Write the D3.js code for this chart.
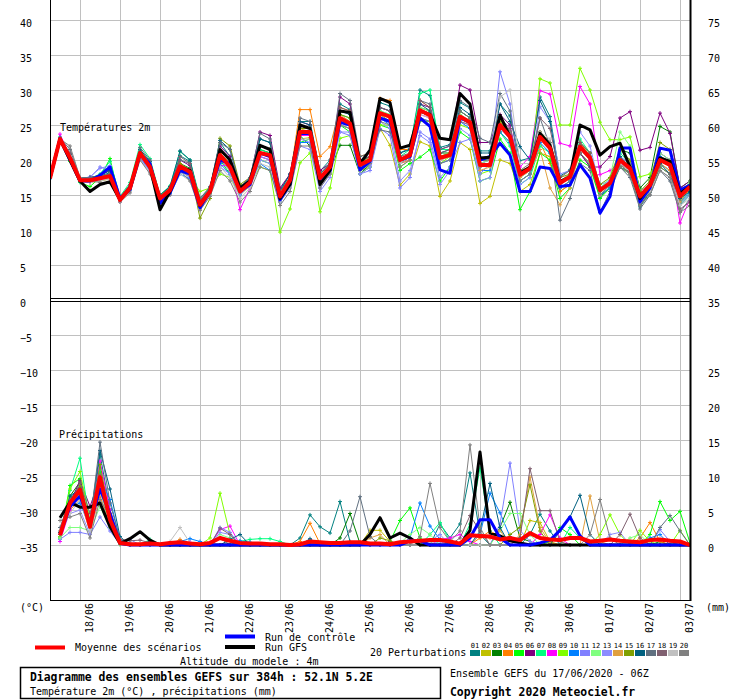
<!DOCTYPE html>
<html lang="fr">
<head>
<meta charset="UTF-8">
<title>Diagramme des ensembles GEFS</title>
<style>
body { margin: 0; background: #fff; }
svg text { font-family: "DejaVu Sans Mono", monospace; font-size: 10px; fill: #000; }
</style>
</head>
<body>
<script src="https://d3js.org/d3.v7.min.js"></script>
<script>
// jours (ticks a 00Z), echeances en heures depuis le 17/06 06Z
var dates = ["18/06","19/06","20/06","21/06","22/06","23/06","24/06","25/06","26/06","27/06","28/06","29/06","30/06","01/07","02/07","03/07"];
var dayHours = [18,42,66,90,114,138,162,186,210,234,258,282,306,330,354,378];
var stepHours = 6;
var leftLabels = [40,35,30,25,20,15,10,5,0,-5,-10,-15,-20,-25,-30,-35];
var gridTemps = [40,35,30,25,20,15,10,5,-5,-10,-15,-20,-25,-30,-35];
var rightTemps = [40,35,30,25,20,15,10,5,0];
var precipLabels = [0,5,10,15,20,25,30];

var memberNames = ["01","02","03","04","05","06","07","08","09","10","11","12","13","14","15","16","17","18","19","20"];
var memberColors = ["#008080","#c0c000","#008000","#ff8000","#00ff00","#800080","#00ff80","#ff00ff","#80ff00","#0080ff","#8080ff","#80ff80","#8c8cff","#e0a040","#80a000","#006080","#607080","#806070","#c0c0c0","#808080"];

// temperature 2m (degC), 65 echeances
var tempMean = [17.4,23.0,20.3,17.1,17.1,17.4,17.7,14.3,16.0,21.0,19.0,14.5,15.7,19.1,18.3,13.6,15.5,20.7,19.0,15.5,16.8,21.0,20.7,14.8,17.1,24.0,24.0,17.4,19.0,26.0,25.2,19.3,20.0,26.7,26.2,20.0,20.7,27.1,26.4,20.3,20.7,26.2,25.4,19.3,19.3,25.0,23.3,17.9,18.8,23.3,21.7,16.7,17.6,21.9,20.3,15.7,16.7,20.0,18.8,14.8,16.4,20.0,19.3,14.8,16.2];
var tempCtrl = [17.4,23.0,20.0,17.0,17.0,17.8,19.0,14.5,15.8,20.8,19.5,13.8,15.3,18.5,18.0,13.2,15.5,20.0,19.5,15.5,16.5,21.0,20.5,14.3,16.5,23.8,23.8,17.0,18.5,25.4,25.0,18.6,19.8,26.0,25.5,20.0,20.5,26.0,24.8,18.6,18.1,26.0,25.4,20.0,20.5,22.4,20.7,15.5,15.5,19.0,18.8,16.2,16.4,19.3,17.4,12.4,14.8,21.7,21.7,14.0,16.0,21.7,21.4,15.7,16.4];
var tempGfs = [17.4,23.0,20.0,17.0,15.5,16.5,16.9,14.3,16.0,21.0,19.0,12.9,15.5,19.0,18.5,13.5,15.5,21.5,20.0,16.0,17.0,22.1,21.5,14.5,16.5,25.0,24.5,16.5,18.5,27.0,26.8,19.5,21.4,28.8,28.2,21.7,22.1,27.0,26.5,23.1,22.9,29.5,28.0,20.3,20.4,26.4,23.3,18.1,19.0,23.8,22.1,16.9,17.6,25.0,24.3,20.7,21.9,22.4,19.0,14.5,16.5,20.3,19.8,15.2,16.2];
var tempMembers = [
[17.4,23.0,20.8,17.1,17.4,17.7,18.2,14.5,16.0,21.5,19.5,14.7,16.0,20.6,19.8,14.1,16.0,22.5,20.5,16.0,17.3,23.0,22.5,15.8,17.9,25.5,25.5,18.4,20.0,28.0,27.2,19.8,20.5,28.2,27.7,21.0,21.7,30.0,29.2,21.8,22.2,28.2,27.4,21.3,21.3,28.0,26.3,19.9,20.3,29.0,26.2,17.7,18.6,20.9,19.3,14.7,16.2,19.0,18.3,13.3,15.4,20.5,19.8,13.8,15.2],
[17.4,22.8,20.0,17.0,16.8,17.0,17.3,14.0,15.8,20.5,18.6,14.2,15.3,18.6,17.8,13.0,15.0,20.0,18.5,15.0,16.3,20.5,20.0,14.3,16.5,23.0,23.2,16.5,18.2,25.0,24.5,18.5,19.0,24.5,22.1,16.4,18.0,22.6,22.0,14.8,17.0,22.5,21.5,13.8,14.8,20.0,19.5,15.5,16.5,21.0,20.5,15.5,16.5,21.0,19.5,15.0,16.0,19.5,18.5,14.5,16.0,19.5,18.5,14.2,15.8],
[17.4,23.1,20.5,17.2,17.0,17.5,18.0,14.5,16.2,21.2,19.3,14.8,16.0,19.5,18.8,14.0,15.8,21.0,19.5,15.8,17.0,21.5,21.0,15.0,17.3,23.5,22.0,16.5,18.5,22.1,22.1,18.0,19.5,26.0,25.5,19.5,20.5,27.5,27.0,21.0,21.0,27.0,26.0,20.0,20.0,26.0,24.0,18.0,19.0,24.0,22.0,16.5,17.5,22.0,20.5,16.0,17.0,21.5,21.0,16.0,17.5,24.8,24.0,16.0,17.0],
[17.4,23.0,20.2,17.1,17.2,17.6,18.0,14.4,16.0,21.0,19.2,14.6,15.8,19.5,18.5,13.8,15.6,21.0,19.5,15.7,17.0,22.0,21.5,15.5,17.5,27.2,27.2,20.5,21.9,27.5,27.0,20.5,21.0,28.8,28.5,21.5,21.5,28.5,27.5,20.5,21.0,26.5,25.5,19.0,19.5,25.5,23.5,18.0,18.5,22.5,19.5,15.5,16.5,22.5,20.5,15.5,16.5,20.5,18.5,14.5,15.8,20.0,19.0,14.5,16.0],
[17.4,22.8,19.8,16.8,16.2,17.5,20.2,14.2,16.5,21.5,19.5,14.5,15.8,19.0,18.0,13.5,15.2,20.0,18.0,15.0,16.5,20.0,19.5,14.0,16.8,22.5,23.0,17.0,18.0,25.0,24.0,18.0,19.0,25.0,24.5,18.5,19.5,20.4,21.5,17.0,19.0,24.0,23.0,17.0,17.5,23.0,21.0,12.9,15.5,21.0,20.0,14.5,16.0,20.0,19.0,14.5,16.0,19.0,18.0,13.5,15.5,19.0,18.0,13.5,15.0],
[17.4,23.2,20.8,17.3,17.5,17.8,18.5,14.6,16.3,21.3,19.5,14.8,16.2,20.0,19.2,14.5,16.0,22.0,20.5,16.0,17.3,24.0,23.5,16.0,18.0,25.5,25.0,18.5,19.5,29.0,28.0,20.0,20.5,27.5,27.0,20.0,20.5,28.0,27.5,21.5,22.0,30.7,30.0,22.5,22.5,26.5,25.0,18.0,19.0,24.0,22.5,17.0,18.0,21.0,19.0,19.0,20.5,26.0,26.9,21.4,21.8,26.7,23.8,16.0,17.0],
[17.5,23.3,20.5,17.3,17.3,18.0,19.8,14.8,16.8,22.2,20.2,15.0,16.3,21.2,20.0,14.5,16.0,21.5,20.0,15.8,17.0,21.5,21.0,15.0,17.0,24.5,24.5,17.5,19.0,26.5,26.0,19.5,20.0,27.0,26.5,20.5,21.5,29.5,30.0,21.5,21.5,27.0,26.0,19.5,20.0,24.0,22.0,16.5,17.5,22.0,21.0,16.0,17.0,23.0,21.0,16.0,17.0,21.0,19.5,15.0,16.5,21.0,20.0,15.5,16.5],
[17.8,23.7,20.5,17.0,16.8,17.2,17.5,14.0,15.8,20.5,18.8,14.2,15.5,18.5,17.5,13.0,15.5,19.2,19.2,12.9,16.0,20.5,20.0,14.5,17.0,23.5,23.5,17.0,18.5,25.5,25.0,19.0,19.5,26.0,25.5,19.5,20.0,26.5,26.0,20.0,20.5,25.5,25.0,19.5,20.0,26.0,24.5,19.0,20.5,29.9,29.4,22.4,22.0,30.5,28.0,17.9,18.5,19.5,19.0,15.5,16.5,21.0,20.0,11.0,14.5],
[17.4,22.8,20.0,17.0,17.0,17.3,17.5,14.5,16.2,20.5,18.8,15.0,16.0,18.5,17.5,15.5,16.0,18.0,17.5,15.0,16.5,19.0,18.5,9.7,13.0,19.6,21.0,12.6,16.0,23.1,23.5,18.0,19.0,25.0,25.0,19.0,20.0,25.5,25.5,19.5,20.5,25.0,24.5,18.0,18.5,24.0,22.5,17.0,18.0,31.6,31.0,25.0,25.0,33.1,30.0,25.4,22.9,22.9,23.3,17.6,18.0,20.5,19.5,14.0,16.0],
[17.3,22.9,20.0,16.9,17.0,17.8,19.0,14.3,15.6,20.3,18.5,14.0,15.2,18.0,17.3,13.2,15.3,19.5,18.0,15.0,16.5,19.5,18.5,14.0,16.5,22.5,22.5,16.5,18.5,25.0,24.5,19.0,19.5,26.0,25.0,19.5,20.5,26.0,25.5,19.5,20.0,25.5,24.5,18.5,18.5,24.0,22.5,17.0,18.0,22.5,21.0,16.0,17.0,21.5,20.0,15.0,16.0,19.5,18.5,14.0,16.0,20.5,19.0,14.0,15.5],
[17.4,23.0,20.3,17.2,17.5,19.0,18.5,14.5,15.8,20.5,18.5,14.3,15.5,18.8,18.0,13.5,15.5,20.0,18.5,15.5,16.8,20.5,20.0,14.5,16.5,23.0,22.5,16.0,18.0,24.0,23.5,18.0,18.5,24.5,23.5,16.0,17.5,24.0,23.0,17.5,19.0,22.5,23.0,18.0,19.5,32.6,28.0,17.5,18.5,23.5,22.0,16.5,17.5,22.5,21.0,16.5,17.0,20.5,19.5,15.0,16.5,20.0,19.0,15.0,16.5],
[17.4,22.9,20.2,17.1,17.0,17.3,18.0,14.5,16.2,21.5,19.5,14.8,16.0,19.0,18.0,14.0,15.8,20.5,19.0,15.5,17.0,21.0,20.5,15.0,17.5,24.0,24.0,17.5,19.0,26.0,25.0,19.0,20.0,27.0,26.5,20.0,21.0,27.5,27.0,20.5,21.0,26.5,25.5,19.5,20.0,25.5,23.5,17.5,18.5,23.0,21.5,17.0,18.0,22.0,21.0,16.0,17.5,24.0,22.0,15.5,17.0,21.0,20.0,15.0,17.0],
[17.4,23.0,20.0,17.3,17.6,18.8,19.2,14.2,15.5,20.2,18.3,14.0,15.0,18.5,17.5,13.0,15.0,19.0,18.0,15.0,16.5,20.0,19.5,14.0,16.0,22.0,21.5,15.5,17.5,24.0,24.0,18.0,19.0,25.5,24.5,17.0,18.5,23.5,22.5,16.5,18.5,24.5,23.5,17.0,17.5,24.5,23.0,16.5,17.5,27.6,25.5,18.0,18.5,24.0,22.0,16.0,17.0,20.0,19.0,14.5,16.0,19.5,18.5,13.5,15.0],
[17.4,23.0,20.3,17.2,17.3,17.6,17.8,14.3,16.0,21.0,19.0,14.6,15.8,19.3,18.5,13.5,15.5,20.5,19.0,15.5,16.8,21.0,20.5,14.5,17.0,24.5,24.0,17.5,19.0,26.5,25.5,19.0,20.0,26.5,26.0,19.5,20.0,27.0,26.0,20.0,20.5,26.0,25.0,18.5,19.0,25.5,23.5,17.5,18.5,21.5,16.0,13.6,16.0,21.5,20.0,15.0,16.5,19.5,18.0,14.0,16.0,19.5,18.5,14.0,16.0],
[17.4,23.0,20.5,17.0,17.0,17.5,18.0,14.2,15.8,21.0,19.2,14.3,15.5,19.5,18.5,11.7,14.5,23.1,22.0,16.5,17.5,22.0,21.5,15.5,17.5,24.5,24.5,18.0,19.5,26.5,26.0,19.5,20.5,26.5,25.5,19.5,20.5,27.0,26.5,20.5,21.0,26.0,25.5,19.5,19.5,25.5,24.0,18.5,19.0,24.0,22.5,17.5,18.0,22.5,21.0,16.5,17.5,21.5,20.0,15.5,17.0,22.5,21.5,15.5,16.5],
[17.4,23.1,20.8,17.3,17.5,17.8,18.5,14.6,16.5,21.5,19.8,15.0,16.2,21.3,20.0,14.0,16.0,22.8,21.5,16.0,17.5,23.0,22.5,15.5,18.0,25.5,25.0,18.0,19.5,27.0,26.5,20.0,20.5,27.5,27.0,21.0,21.5,28.0,27.0,21.0,21.5,27.5,26.5,21.0,21.0,28.0,25.5,21.9,20.0,28.5,25.5,17.0,17.5,22.0,20.0,15.5,16.5,20.5,19.0,14.5,16.0,19.5,18.0,14.5,15.5],
[17.4,23.2,21.5,17.5,17.5,17.7,18.0,14.7,16.5,21.8,20.0,14.8,16.0,20.0,19.5,14.5,16.2,22.5,21.5,16.2,17.5,23.8,23.0,15.5,17.5,26.0,25.5,18.0,19.5,29.5,28.5,20.5,21.0,24.3,24.0,19.5,20.5,28.5,28.0,21.5,22.0,28.5,27.5,23.1,22.5,29.5,27.0,18.0,18.5,26.0,22.0,11.4,14.5,19.5,18.5,12.5,15.5,19.0,17.5,13.0,15.0,18.5,17.0,12.5,14.5],
[17.4,23.0,21.0,17.3,17.3,17.5,17.5,14.5,16.0,20.8,19.0,14.5,15.5,20.5,19.5,14.2,16.0,21.5,20.0,15.5,17.0,22.0,21.5,15.0,17.0,25.0,24.5,17.5,19.0,27.5,27.0,20.0,20.5,27.5,27.0,20.5,21.0,28.5,27.5,21.0,21.5,27.0,26.0,20.0,20.0,26.0,24.5,18.5,19.5,26.0,24.5,17.5,18.5,22.5,21.0,15.5,16.5,19.5,18.0,13.5,15.5,19.0,18.0,13.0,14.0],
[17.4,22.8,20.5,17.0,16.8,17.0,17.3,14.0,15.5,20.0,18.3,14.0,15.0,18.0,17.0,13.0,15.0,19.0,17.5,14.5,16.0,19.5,19.0,14.0,16.0,23.0,23.0,16.5,18.0,25.0,24.5,18.5,19.5,26.0,25.5,19.5,20.5,26.5,26.0,20.0,20.5,26.0,25.5,20.0,20.5,29.0,30.0,19.5,19.5,24.0,23.0,17.0,17.5,21.5,20.0,15.0,16.5,19.5,18.5,14.0,15.5,18.5,17.5,13.5,14.5],
[17.4,23.0,22.0,17.5,17.0,16.8,16.8,14.0,15.3,20.0,18.0,13.8,15.0,18.5,17.0,12.8,14.8,18.5,17.0,14.0,15.5,19.0,18.5,13.5,15.5,22.0,22.0,16.0,18.0,25.0,24.5,18.5,19.5,25.5,25.0,19.0,20.0,26.0,25.5,19.5,20.0,25.5,25.0,19.0,19.5,26.0,24.0,17.0,18.0,23.5,22.5,16.0,17.0,21.0,19.5,15.0,16.5,19.0,18.0,13.5,15.0,18.5,17.5,12.5,13.5]
];

// precipitations (mm / 6h), 64 echeances a partir de +6h
var precipMean = [1.4,6.0,7.9,2.6,9.7,3.6,0.3,0.1,0.1,0.2,0.1,0.3,0.4,0.2,0.1,0.3,1.0,0.6,0.3,0.2,0.2,0.1,0.1,0,0.1,0.5,0.4,0.3,0.3,0.4,0.4,0.2,0.2,0.1,0.4,0.5,0.6,0.7,0.7,0.5,0.2,1.4,1.3,1.2,0.8,1.0,0.7,1.7,1.0,0.8,0.7,1.0,1.0,0.5,0.6,0.8,0.6,0.5,0.4,0.7,0.8,0.6,0.5,0];
var precipCtrl = [1.5,5.5,7.0,3.0,8.0,4.5,0.2,0,0,0,0,0,0,0,0,0,0,0,0,0,0,0,0,0,0,0,0,0,0,0,0,0,0,0,0,0.6,0.6,0,0,0,0,1.0,3.6,3.6,1.0,0,0,0,0.3,0.7,2.1,4.0,1.3,0,0,0,0,0,0,0,0,0,0,0];
var precipGfs = [3.9,6.1,5.4,5.4,6.0,2.6,0.2,0.9,1.9,0.7,0,0,0,0,0,0,0,0,0,0,0,0,0,0,0,0,0,0,0,0,0,1.5,3.9,1.0,1.7,1.0,0,0,0,0,0,2.1,13.3,1.7,1.3,0.6,0.3,0,0,0,0,0,0,0,0,0,0,0,0,0,0,0,0,0];
var precipMembers = [
[1.0,6.5,8.5,2.0,13.0,5.0,0.5,0,0,0,0,0,0,0,0,0,0,0,0,0,0,0,0,0,1.0,4.3,2.6,1.7,6.2,0.5,0,0,0,0,0,0,0,0,3.0,1.0,3.0,10.3,1.5,0,0,0,0,1.5,4.4,2.0,0,0,0,0,0,0,0,0,0,0,0,0,0,0],
[1.5,5.5,7.5,2.5,9.0,3.5,0.3,0,0,0,0,0,0,0,0,0,0,0,0,0,0,0,0,0,0,0,0,0,0,0,0,2.1,2.1,0.5,0,0,0,0,0,0,0,0,0,0,0,0,0,3.5,3.2,0.5,0,0,0,0,0,0,0,0,0,0,0,0,0.5,0],
[1.2,7.0,9.0,3.0,10.5,4.0,0.2,0,0,0,0,0,0,0,0,0,0,0,0,0,0,0,0,0,0,0,0,0,1.0,4.5,0.2,0,0,0,0,0,0,0,0,0,0,0,0,0,2.5,6.1,1.0,0.5,0,0,0,0,0,0,0,0,0,0,0,0,0.5,0,0,0],
[1.5,5.0,6.5,2.0,7.0,3.0,0.2,0,0,0,0,0,0.8,0,0,0,0,0,0,0,0,0,0,0,0.5,3.1,0.2,0,0,0,0,0,0,0,0,0,0,0,0,0,0,0,1.0,2.0,1.2,0,0,0,0,0,0,0,0,0,0,0,0,0,1.0,3.2,0.5,0,0,0],
[1.0,8.5,9.5,2.5,8.0,2.5,0.1,0,0,0,0,0,0,0,0,0,0,0,0,0,0,0,0,0,0,0,0,0,0,0,0,0,0,0.5,3.5,5.3,1.0,0,0,0,0,0,0,0,0,0,0,0,0,0.5,2.5,1.5,0,0,0,0,0,0,0,1.5,6.2,3.5,4.8,0.3],
[1.8,6.0,9.2,5.5,9.5,4.5,0.5,0,0,0,0,0,0,0,0,0,1.0,0,0,0,0,0,0,0,0,0,0,0,0,0,0,0,0,0.5,0,0,0,0,0,0,0,0,0,0,0,0,0,0,0,0,0,0,0,0,0,0,0,0,0,0,0,0,0,0],
[0.8,7.8,12.4,3.0,11.0,3.5,0.3,0,0,0.8,0,0,0,0,0,0,0,0,0.5,0.8,0.9,0.9,0.5,0,0,0,0,0,0,0,0,0,0,0,0,0,0,1.5,3.2,0.5,0,3.0,11.0,2.0,0,0,0,0,0,0,0,2.5,1.0,0,0,0,0,0,0,0,0,0,0,0],
[0.5,5.0,8.0,2.0,12.0,5.0,0.4,0,0,0,0,0,0,0.4,0,0,2.2,2.7,0,0,0,0,0,0,0,0,0,0,0,0,0,0,0,0,0,0,0,0,0.8,1.0,1.5,0.5,0,0,0,0,0,0,1.5,4.3,1.0,0,0,0,0,0,0,0,0,0,0,0,0,0],
[1.2,8.0,10.5,3.5,10.0,4.0,0.2,0,0,0,0,0,0,0,0,1.0,7.4,1.5,0,0,0,0,0,0,0,0,0,0,0,0,0,0,0,0,0,0,0,0,0,0,0,0,0,0,0,0,0,0,0,0,0,0,0,0,1.5,4.3,1.5,0,2.1,0.5,0,0,2.1,0],
[2.0,5.5,6.0,2.5,9.5,6.5,0.8,0,0,0,0,0,0.5,0.9,0.5,0,0,0,0.6,0.4,0,0,0,0,0,0,0,0,0,0,0,0,0,0,0,1.0,6.0,2.7,0.8,0,0,0,1.5,7.4,4.6,1.2,0,0,0,0,0,0,0,0,0,0,0,0,0,1.0,1.5,0,0,0],
[0.8,1.8,1.8,1.5,4.0,2.0,0.1,0.8,0,0,0,0,0,0,0,0,2.5,1.8,0,0,0,0,0,0,0,0,0,0,0,0,0,0,0,0,0,0,0,0,0.5,0,0,0,0,0,3.0,11.7,2.1,0.5,0,0,0,0,0,0,0,0,0,0,0,0,2.2,0.5,0,0],
[1.0,2.5,2.5,2.0,5.5,2.5,0.1,0,0,0,0,0,0,0,0,0,1.5,1.0,0,0,0,0,0,0,0,0,0,0,0,0,0,0,0,0,0.3,1.5,2.5,1.5,0,0,0,0,0,0,2.0,4.5,4.5,1.5,0,0,0,0,0,0,0,0,0,1.0,1.5,0,0,0,0,0],
[1.5,4.5,5.0,1.5,8.5,3.5,0.3,0.3,0,0,0,0,0,0,0,0,1.8,1.5,0,0,0,0,0,0,0,0,0,0,0,0,0,0,0,0,0,0,0,0.6,1.5,0,0,0,0,0,0,0,0,0,0,0,0,0,0,0,0,1.5,1.8,0,0,0,0,0,0,0],
[2.0,6.5,7.0,3.0,9.0,3.0,0.2,0,0,0,0,0,0,0,0,0,0,0,0,0,0,0,0,0,0,0,0,0,0,0,0,1.0,1.5,0,0,0,0,0,0,0,0,0,1.5,1.0,2.1,0,1.5,9.7,2.5,0.3,0,0,0,7.0,0.5,0,0,0,0,0,0,0,0,0],
[1.5,6.0,8.5,2.5,11.5,4.0,0.3,0,0,0,0,0,0,0,0,0,0,0,0,0,0,0,0,0,0,0,0,0,0,0,0,0,1.0,0.6,0,0,0,0,0,0,0,0,0,0,0,1.5,2.5,8.6,2.0,0,0,0,0,0,0,0,0,0,0,0,0,0,0,0],
[1.8,7.0,8.0,3.5,13.5,8.0,1.2,0,0,0.6,0,0,0,0,0,0,0,0.8,1.5,0,0,0,0,0,0,0.9,0,0,0,0,0,0,0,0,0,0,0,0,0,0,0,0,2.0,8.8,2.5,0,0,0,0,0,2.0,4.0,7.1,1.5,0,0,0,0,0,0,0,0,0,0],
[2.5,6.5,7.5,3.0,14.7,6.0,0.8,0,0,0,0,0,0,0,0,0,0,0,0,0,0,0,0,0,0,0,0,0,0,2.0,6.9,1.2,0,0,0,0,0,0,0,0,0,0,0,0,0,0,0,0,0,0,0,0,0,0,0,0,0,0,0,0,2.5,4.2,2.0,0],
[1.5,5.5,9.0,4.5,10.0,4.5,0.8,0.6,0.7,0.3,0,0,0,0,0,0,2.4,1.5,0,0,0,0,0,0,0,0,0,0,0,0,0,0,0,0,0,0,0,0,0,0,1.0,4.2,2.0,0,0,0,1.0,10.9,4.9,4.9,0.5,0,0,0,0,0,1.5,4.4,1.0,0,0,0,0,0],
[2.0,4.5,6.5,2.0,7.5,3.0,0.3,0,0,0,0,0.5,2.5,0.3,0,0,0,0,0,0,0,0,0,0,0,0,0,0,0,0,0,0,0,0,0,0,0,0.5,0,0,0,0,0,0,0,0,0,0,0,0,0,0,0,0,0,0,0,0,0,0,0,0,0,0],
[3.5,4.0,4.5,1.0,6.5,4.0,0.5,0,0,0,0,0,0,0,0,0,1.0,0,0,0,0,0,0,0,0,0,0,0,0,0,0,0,0,0,0,0,1.2,8.8,2.5,0.5,2.0,14.3,2.5,0,0,0,0,0,0,0,0,0,0,1.5,6.5,1.0,0,0,0,0,0,0,0,0]
];

var W = 740, H = 700;

var svg = d3.select("body")
  .append("svg")
  .attr("width", W)
  .attr("height", H);

var x = d3.scaleLinear().domain([0, 384]).range([50, 690]);
var yT = d3.scaleLinear().domain([-35, 40]).range([545, 20]);
var yP = d3.scaleLinear().domain([0, 35]).range([545, 300]);
var yTop = 0, yBottom = 600;

// grille
svg.append("g").selectAll("line")
  .data(gridTemps)
  .enter().append("line")
  .attr("x1", x(0)).attr("x2", x(384))
  .attr("y1", function(d) { return yT(d) + 0.5; })
  .attr("y2", function(d) { return yT(d) + 0.5; })
  .attr("stroke", "#c0c0c0");

svg.append("g").selectAll("line")
  .data(dayHours)
  .enter().append("line")
  .attr("x1", function(d) { return x(d) + 0.5; })
  .attr("x2", function(d) { return x(d) + 0.5; })
  .attr("y1", yTop).attr("y2", yBottom)
  .attr("stroke", "#c0c0c0");

svg.append("defs").append("clipPath").attr("id", "clipTop")
  .append("rect").attr("x", x(0)).attr("y", yTop)
  .attr("width", x(384) - x(0)).attr("height", yT(0) - 1);
svg.select("defs").append("clipPath").attr("id", "clipBot")
  .append("rect").attr("x", x(0)).attr("y", yT(0) + 2)
  .attr("width", x(384) - x(0)).attr("height", yBottom - yT(0) - 2);

var tLine = d3.line()
  .x(function(d, i) { return x(i * stepHours); })
  .y(function(d) { return yT(d); });
var pLine = d3.line()
  .x(function(d, i) { return x((i + 1) * stepHours); })
  .y(function(d) { return yP(d); });

var plus = "M-2,0H2M0,-2V2";

function drawMembers(g, data, line, xf, yf) {
  data.forEach(function(serie, m) {
    g.append("path")
      .attr("d", line(serie))
      .attr("fill", "none")
      .attr("stroke", memberColors[m])
      .attr("stroke-width", 1);
    g.selectAll(null)
      .data(serie)
      .enter().append("path")
      .attr("d", plus)
      .attr("transform", function(d, i) { return "translate(" + xf(i) + "," + yf(d) + ")"; })
      .attr("stroke", memberColors[m])
      .attr("stroke-width", 1);
  });
}

var gTop = svg.append("g").attr("clip-path", "url(#clipTop)");
drawMembers(gTop, tempMembers, tLine,
  function(i) { return x(i * stepHours); },
  function(d) { return yT(d); });

var gBot = svg.append("g").attr("clip-path", "url(#clipBot)");
drawMembers(gBot, precipMembers, pLine,
  function(i) { return x((i + 1) * stepHours); },
  function(d) { return yP(d); });

var mains = [
  {g: gTop, line: tLine, d: tempCtrl, c: "#0000ff", w: 3},
  {g: gTop, line: tLine, d: tempGfs, c: "#000000", w: 3},
  {g: gTop, line: tLine, d: tempMean, c: "#ff0000", w: 4},
  {g: gBot, line: pLine, d: precipGfs, c: "#000000", w: 3},
  {g: gBot, line: pLine, d: precipCtrl, c: "#0000ff", w: 3},
  {g: gBot, line: pLine, d: precipMean, c: "#ff0000", w: 4}
];
mains.forEach(function(s) {
  s.g.append("path")
    .attr("d", s.line(s.d))
    .attr("fill", "none")
    .attr("stroke", s.c)
    .attr("stroke-width", s.w)
    .attr("stroke-linejoin", "round");
});

// cadres
var frame = svg.append("g").attr("stroke", "#000").attr("stroke-width", 1);
frame.append("line").attr("x1", x(0) + 0.5).attr("x2", x(0) + 0.5).attr("y1", yTop).attr("y2", yBottom + 1);
frame.append("line").attr("x1", x(384) + 0.5).attr("x2", x(384) + 0.5).attr("y1", yTop).attr("y2", yBottom + 1).attr("stroke-width", 2);
frame.append("line").attr("x1", x(0)).attr("x2", x(384)).attr("y1", yT(0) - 1.5).attr("y2", yT(0) - 1.5);
frame.append("line").attr("x1", x(0)).attr("x2", x(384)).attr("y1", yT(0) + 1.5).attr("y2", yT(0) + 1.5);
frame.append("line").attr("x1", x(0)).attr("x2", x(384) + 1).attr("y1", yBottom + 0.5).attr("y2", yBottom + 0.5);

// axes
var leftAxis = svg.append("g")
  .attr("transform", "translate(" + x(0) + ",0)")
  .call(d3.axisLeft(yT).tickValues(leftLabels).tickSize(0));
leftAxis.select(".domain").remove();
leftAxis.selectAll("text")
  .attr("x", -30).attr("dy", "0.6em")
  .style("text-anchor", "start")
  .style("font-family", null).style("font-size", null);

var rightAxis = svg.append("g")
  .attr("transform", "translate(" + x(384) + ",0)")
  .call(d3.axisRight(yT).tickValues(rightTemps).tickSize(0).tickFormat(function(d) { return d + 35; }));
rightAxis.select(".domain").remove();
rightAxis.selectAll("text").attr("x", 18).attr("dy", "0.6em");

var rightAxis2 = svg.append("g")
  .attr("transform", "translate(" + x(384) + ",0)")
  .call(d3.axisRight(yP).tickValues(precipLabels.slice(0, 6)).tickSize(0));
rightAxis2.select(".domain").remove();
rightAxis2.selectAll("text").attr("x", 18).attr("dy", "0.6em");

var dateAxis = svg.append("g")
  .attr("transform", "translate(0," + yBottom + ")")
  .call(d3.axisBottom(x).tickValues(dayHours).tickSize(0).tickFormat(function(d, i) { return dates[i]; }));
dateAxis.select(".domain").remove();
dateAxis.selectAll("text")
  .attr("transform", "rotate(-90)")
  .attr("x", -3).attr("y", 12).attr("dy", 0)
  .style("text-anchor", "end");

svg.selectAll(".tick text").attr("font-family", null).attr("font-size", null).attr("fill", "#000");

svg.append("text").attr("x", 20).attr("y", 611).text("(°C)");
svg.append("text").attr("x", 706).attr("y", 611).text("(mm)");
svg.append("text").attr("x", 60).attr("y", 131).text("Températures 2m");
svg.append("text").attr("x", 59).attr("y", 438).text("Précipitations");

// legende
var leg = svg.append("g");
leg.append("line").attr("x1", 35).attr("x2", 65).attr("y1", 647.5).attr("y2", 647.5).attr("stroke", "#ff0000").attr("stroke-width", 4);
leg.append("text").attr("x", 75).attr("y", 651).text("Moyenne des scénarios");
leg.append("line").attr("x1", 225).attr("x2", 255).attr("y1", 636.5).attr("y2", 636.5).attr("stroke", "#0000ff").attr("stroke-width", 4);
leg.append("text").attr("x", 265).attr("y", 640.5).text("Run de contrôle");
leg.append("line").attr("x1", 225).attr("x2", 255).attr("y1", 647).attr("y2", 647).attr("stroke", "#000").attr("stroke-width", 4);
leg.append("text").attr("x", 265).attr("y", 650.5).text("Run GFS");
leg.append("text").attr("x", 180).attr("y", 664.5).text("Altitude du modele : 4m");
leg.append("text").attr("x", 370).attr("y", 655.5).text("20 Perturbations");

leg.selectAll("rect.sw")
  .data(memberNames)
  .enter().append("rect")
  .attr("class", "sw")
  .attr("x", function(d, i) { return 470 + i * 11; })
  .attr("y", 650).attr("width", 10).attr("height", 6)
  .attr("fill", function(d, i) { return memberColors[i]; });
leg.selectAll("text.sw")
  .data(memberNames)
  .enter().append("text")
  .attr("class", "sw")
  .attr("x", function(d, i) { return 475 + i * 11; })
  .attr("y", 647.5)
  .style("font-size", "7px")
  .style("text-anchor", "middle")
  .text(function(d) { return d; });

svg.append("rect").attr("x", 20.5).attr("y", 667.5).attr("width", 420).attr("height", 31)
  .attr("fill", "none").attr("stroke", "#000").attr("stroke-width", 1.5);
svg.append("text").attr("x", 30).attr("y", 681)
  .style("font-weight", "bold").style("font-size", "11.4px")
  .text("Diagramme des ensembles GEFS sur 384h : 52.1N 5.2E");
svg.append("text").attr("x", 30).attr("y", 695).text("Température 2m (°C) , précipitations (mm)");
svg.append("text").attr("x", 450).attr("y", 676.5).text("Ensemble GEFS du 17/06/2020 - 06Z");
svg.append("text").attr("x", 450).attr("y", 695.5)
  .style("font-weight", "bold").style("font-size", "11.4px")
  .text("Copyright 2020 Meteociel.fr");
</script>
</body>
</html>
